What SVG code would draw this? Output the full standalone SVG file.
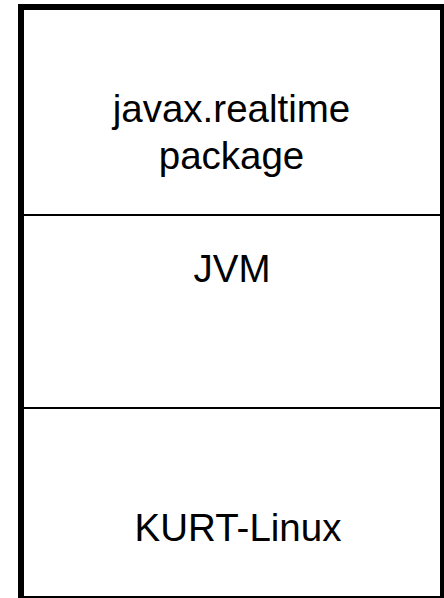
<svg xmlns="http://www.w3.org/2000/svg" width="444" height="598" viewBox="0 0 444 598">
<style>
.lbl{font-family:"Liberation Sans",Arial,sans-serif;font-size:38.5px;fill:#000;text-anchor:middle}
.sep{stroke:#000;stroke-width:2}
</style>
<rect width="444" height="598" fill="#fff"/>
<g id="frame">
<line x1="21" y1="4" x2="21" y2="598" stroke="#000" stroke-width="6"/>
<line x1="18" y1="7" x2="444" y2="7" stroke="#000" stroke-width="6"/>
<line x1="442" y1="4" x2="442" y2="598" stroke="#000" stroke-width="4"/>
<line x1="18" y1="597" x2="444" y2="597" stroke="#000" stroke-width="2"/>
</g>
<g id="connectors">
<line class="sep" x1="21" y1="215" x2="444" y2="215"/>
<line class="sep" x1="21" y1="408" x2="444" y2="408"/>
</g>
<g id="node-package"><text class="lbl" x="231.5" y="122">javax.realtime</text><text class="lbl" x="231.5" y="169">package</text></g>
<g id="node-jvm"><text class="lbl" x="232" y="282">JVM</text></g>
<g id="node-kurt"><text class="lbl" x="238" y="541">KURT-Linux</text></g>
</svg>
